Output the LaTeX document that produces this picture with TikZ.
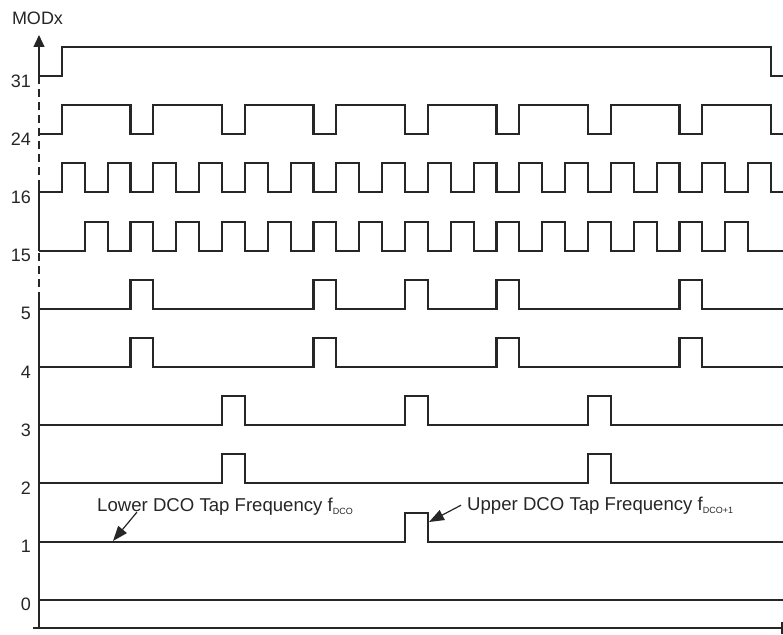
\documentclass[tikz,border=0pt]{standalone}
\usepackage{fontspec}
\setmainfont{Liberation Sans}
\usetikzlibrary{arrows.meta}

\begin{document}
\begin{tikzpicture}
[x=1pt,y=-1pt,
 wave/.style={line width=2.1pt,line join=miter,black!85},
 axis/.style={line width=1.2pt,black!85},
 lbl/.style={anchor=east,inner sep=0pt,font=\fontsize{18}{21}\selectfont,black!85},
 note/.style={anchor=base west,inner sep=0pt,font=\fontsize{18.6}{21}\selectfont,black!85},
 pointer/.style={line width=1.2pt,black!85,-{Triangle[length=15pt,width=11pt]}}]
\useasboundingbox (0,0) rectangle (783,634);
% waveforms, one per MODx value (slot width 22.875)
\foreach \k/\m/\tl in {0/31/{1,32}, 1/24/{1,4,5,8,9,12,13,16,17,20,21,24,25,28,29,32},
  2/16/{1,...,32}, 3/15/{2,...,31}, 4/5/{4,5,12,13,16,17,20,21,28,29},
  5/4/{4,5,12,13,20,21,28,29}, 6/3/{8,9,16,17,24,25}, 7/2/{8,9,24,25}, 8/1/{16,17}} {
  \pgfmathsetmacro\y{76+58.2*\k}
  \node[lbl] (l\m) at (31,{\y+5}) {\m};
  \draw[wave] (39,\y) \foreach \t [count=\i] in \tl {-- ({39+22.875*\t},{\y-29*mod(\i+1,2)})
    -- ({39+22.875*\t},{\y-29*mod(\i,2)})} -- (783,\y);
}
\node[lbl] (l0) at (31,604) {0};
\draw[wave] (39,599.6) -- (783,599.6);
% axes
\coordinate (o) at (39,628); \coordinate (top) at (39,35);
\coordinate (d1) at (39,300); \coordinate (d2) at (39,251);
\coordinate (d3) at (39,188); \coordinate (d4) at (39,76);
\coordinate (xl) at (33,628); \coordinate (xr) at (782,628);
\draw[axis] (o) -- (d1);
\draw[axis,dash pattern=on 8pt off 5pt] (d1) -- (d2);
\draw[axis] (d2) -- (d3);
\draw[axis,dash pattern=on 8pt off 5pt] (d3) -- (d4);
\draw[axis,-{Triangle[length=12pt,width=11pt]}] (d4) -- (top);
\draw[axis] (xl) -- (xr);
\draw[axis] (xr) ++(0,-6) -- ++(0,12);
\node[lbl,anchor=base] (modx) at (37.5,25) {MODx};
% tap frequency notes
\node[note] (lower) at (97,511) {Lower DCO Tap Frequency f\raisebox{-3pt}{\fontsize{9}{10}\selectfont DCO}};
\node[note] (upper) at (467,510) {Upper DCO Tap Frequency f\raisebox{-3pt}{\fontsize{9}{10}\selectfont DCO+1}};
\coordinate (lowtip) at (113,541); \coordinate (uptip) at (429,522);
\draw[pointer] ([xshift=40pt,yshift=3pt]lower.south west) -- (lowtip);
\draw[pointer] ([xshift=-6pt]upper.west) -- (uptip);
\end{tikzpicture}
\end{document}
